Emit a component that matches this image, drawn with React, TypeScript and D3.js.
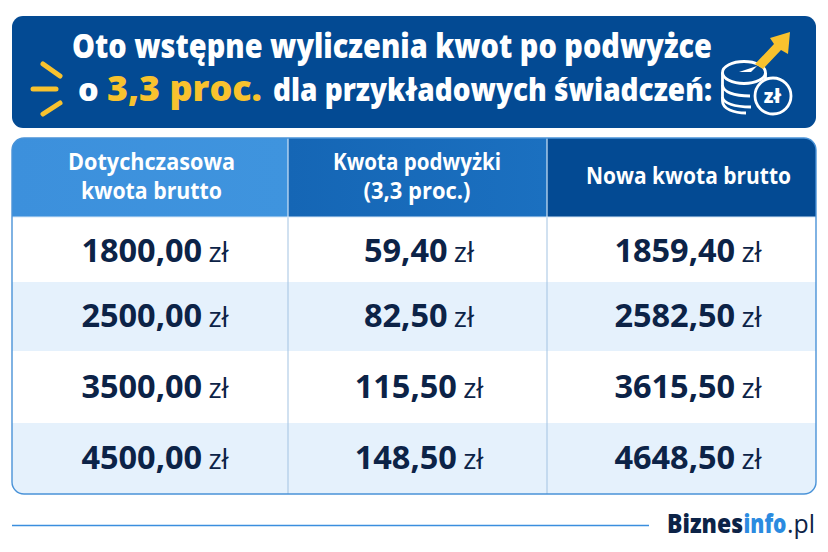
import * as d3 from 'd3'

const WIDTH = 828
const HEIGHT = 552

const baseAmounts = [1800, 2500, 3500, 4500]
const raiseAmounts = [59.4, 82.5, 115.5, 148.5]
const newAmounts = [1859.4, 2582.5, 3615.5, 4648.5]
const columnValues = [baseAmounts, raiseAmounts, newAmounts]
const rowKeys = ['a', 'b', 'c', 'd']
const columnKeys = ['base', 'raise', 'new']
const columnHeaders = [
  ['Dotychczasowa', 'kwota brutto'],
  ['Kwota podwyżki', '(3,3 proc.)'],
  ['Nowa kwota brutto'],
]
const headerFills = ['url(#headA)', 'url(#headB)', '#034a93']

const FONT = '"Open Sans", sans-serif'
const INK = '#0c2347'
const YELLOW = '#f8c22e'
const BANNER = '#034a93'

const table = { left: 12, right: 816, top: 138, head: 217, bottom: 494 }
const colEdges = [table.left, 288, 547, table.right]
const headerCenters = [151.5, 417, 688.5]
const headerWidths = [[167, 141], [168, 107], [205]]
const valueCenters = [155, 419, 688]

// rows in the picture are not quite equal in height
const rowTop = d3.scaleOrdinal<string, number>().domain(rowKeys).range([217, 282, 351, 423])
const rowBottom = d3.scaleOrdinal<string, number>().domain(rowKeys).range([282, 351, 423, 494])
const rowBaseline = d3.scaleOrdinal<string, number>().domain(rowKeys).range([262, 327, 398, 469])

const pl = (v: number) => v.toFixed(2).replace('.', ',')

// d3.path has no roundRect in this build
function roundedRect(x0: number, y0: number, x1: number, y1: number, r: number) {
  const p = d3.path()
  p.moveTo(x0 + r, y0)
  p.arcTo(x1, y0, x1, y1, r)
  p.arcTo(x1, y1, x0, y1, r)
  p.arcTo(x0, y1, x0, y0, r)
  p.arcTo(x0, y0, x1, y0, r)
  p.closePath()
  return p.toString()
}
const tableOutline = roundedRect(table.left, table.top, table.right, table.bottom, 12)

export default function App() {
  return (
    <svg
      width={WIDTH}
      height={HEIGHT}
      viewBox={`0 0 ${WIDTH} ${HEIGHT}`}
      style={{ position: 'absolute', left: 0, top: 0, background: '#fff' }}
      fontFamily={FONT}
    >
      <defs>
        <clipPath id="tableClip">
          <path d={tableOutline} />
        </clipPath>
        <linearGradient id="headA" x1="0" y1="0" x2="1" y2="0">
          <stop offset="0%" stopColor="#3c90dc" />
          <stop offset="100%" stopColor="#3f94de" />
        </linearGradient>
        <linearGradient id="headB" x1="0" y1="0" x2="1" y2="0">
          <stop offset="0%" stopColor="#1566b5" />
          <stop offset="100%" stopColor="#1b70c0" />
        </linearGradient>
      </defs>

      {/* title banner */}
      <rect x={12} y={16} width={804} height={112} rx={11} fill={BANNER} />
      <g fontWeight={800} fill="#fff">
        <text x={72} y={57.5} fontSize={33} textLength={640} lengthAdjust="spacingAndGlyphs">
          Oto wstępne wyliczenia kwot po podwyżce
        </text>
        <text x={78} y={101} fontSize={32.5}>o</text>
        <text x={107} y={101} fontSize={36} fill={YELLOW} textLength={155} lengthAdjust="spacingAndGlyphs">
          3,3 proc.
        </text>
        <text x={273} y={101} fontSize={32.5} textLength={439} lengthAdjust="spacingAndGlyphs">
          dla przykładowych świadczeń:
        </text>
      </g>

      {/* yellow sparks */}
      <g stroke={YELLOW} strokeWidth={5} strokeLinecap="round">
        <line x1={43} y1={64} x2={60} y2={76} />
        <line x1={33} y1={89} x2={56} y2={89} />
        <line x1={43} y1={114} x2={60} y2={103} />
      </g>

      {/* coins and arrow */}
      <g fill="none" stroke="#fff" strokeWidth={2.8}>
        <ellipse cx={744} cy={72.5} rx={21.5} ry={11} />
        <path d="M722.5 72.5 V101 C722.5 109 734 113 746 113" />
        <path d="M722.5 85 C723 92 734 96 750 96" />
        <path d="M722.5 97 C723 103 734 107 751 107" />
        <path d="M765.5 73 V82" />
      </g>
      <path d="M755 64 L774 44 L770 38 L790 32 L788 54 L781 50 L763 69 Z" fill={YELLOW} />
      <path d="M739 72 L757 66 L751 72 Z" fill="#fff" />
      <circle cx={773} cy={96} r={18} fill={BANNER} stroke="#fff" strokeWidth={2.8} />
      <text x={772.5} y={103} textAnchor="middle" fontSize={19} fontWeight={800} fill="#fff">zł</text>

      {/* table body and header */}
      <g clipPath="url(#tableClip)">
        <rect x={table.left} y={table.top} width={table.right - table.left} height={table.bottom - table.top} fill="#fff" />
        {rowKeys.map((k, i) => (
          <rect
            key={k}
            x={table.left}
            y={rowTop(k)}
            width={table.right - table.left}
            height={rowBottom(k) - rowTop(k)}
            fill={i % 2 ? '#e5f1fc' : '#ffffff'}
          />
        ))}
        {columnKeys.map((k, i) => (
          <rect
            key={k}
            x={colEdges[i]}
            y={table.top}
            width={colEdges[i + 1] - colEdges[i]}
            height={table.head - table.top}
            fill={headerFills[i]}
          />
        ))}
        {[colEdges[1], colEdges[2]].map((x) => (
          <g key={x}>
            <line x1={x} x2={x} y1={table.top} y2={table.head} stroke="#cfe3f6" strokeWidth={1.2} />
            <line x1={x} x2={x} y1={table.head} y2={table.bottom} stroke="#a3c3e2" strokeWidth={1} />
          </g>
        ))}
      </g>
      <line x1={table.left} x2={table.right} y1={table.head} y2={table.head} stroke="#d5e7f8" strokeWidth={1} />
      <path d={tableOutline} fill="none" stroke="#4a93d8" strokeWidth={1.4} />

      {/* header labels */}
      <g fontWeight={700} fontSize={22.5} fill="#fff" textAnchor="middle">
        {columnHeaders.map((lines, c) =>
          lines.map((line, l) => (
            <text
              key={line}
              x={headerCenters[c]}
              y={lines.length === 1 ? 183.5 : 170 + l * 29}
              textLength={headerWidths[c][l]}
              lengthAdjust="spacingAndGlyphs"
            >
              {line}
            </text>
          ))
        )}
      </g>

      {/* amounts */}
      <g textAnchor="middle" fill={INK}>
        {columnValues.map((values, c) =>
          values.map((v, r) => (
            <text
              key={`${c}-${r}`}
              x={valueCenters[c]}
              y={rowBaseline(rowKeys[r])}
              fontSize={32.5}
              fontWeight={700}
            >
              {pl(v)}
              <tspan fontSize={28} fontWeight={500} dx={-1}> zł</tspan>
            </text>
          ))
        )}
      </g>

      {/* footer */}
      <line x1={12} x2={649} y1={525.5} y2={525.5} stroke="#3a8ede" strokeWidth={1.4} />
      <g fontSize={26} fontWeight={800}>
        <text x={667} y={532.5} fill={INK} textLength={76} lengthAdjust="spacingAndGlyphs">Biznes</text>
        <text x={743.5} y={532.5} fill="#2b8be0" textLength={43} lengthAdjust="spacingAndGlyphs">info</text>
        <text x={787} y={532.5} fill={INK} fontWeight={400} textLength={28} lengthAdjust="spacingAndGlyphs">.pl</text>
      </g>
    </svg>
  )
}
